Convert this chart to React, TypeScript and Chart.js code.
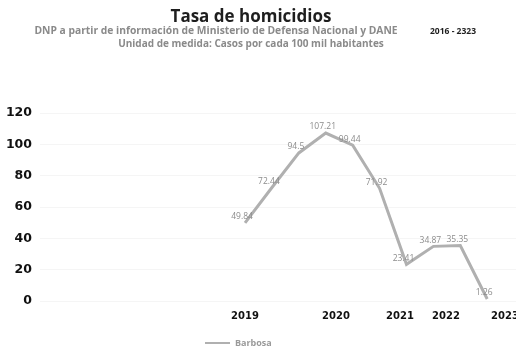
import React, { useEffect, useRef } from "react";
import { Chart, registerables } from "chart.js";

Chart.register(...registerables);

const SERIES_NAME = "Barbosa";
const VALUES = [49.84, 72.44, 94.5, 107.21, 99.44, 71.92, 23.41, 34.87, 35.35, 1.26];
const VALUE_LABELS = ["49.84", "72.44", "94.5", "107.21", "99.44", "71.92", "23.41", "34.87", "35.35", "1.26"];
const X_TICK_LABELS = ["2019", "2020", "2021", "2022", "2023"];
const X_TICK_POS = [0, 3.38, 5.76, 7.47, 9.66];
const Y_TICKS = [0, 20, 40, 60, 80, 100, 120];

const TITLE = "Tasa de homicidios";
const SUB1 = "DNP a partir de información de Ministerio de Defensa Nacional y DANE";
const SUB2 = "Unidad de medida: Casos por cada 100 mil habitantes";
const PERIOD = "2016 - 2323";

const LINE_COLOR = "#b0b0b0";

const extrasPlugin = {
  id: "extras",
  afterDraw(chart: any) {
    const ctx = chart.ctx;
    ctx.save();
    // header
    ctx.textAlign = "center";
    ctx.textBaseline = "middle";
    ctx.fillStyle = "#1e1e1e";
    ctx.font = "bold 17px 'Open Sans'";
    ctx.fillText(TITLE, 251, 17);
    ctx.fillStyle = "#8a8a8a";
    ctx.font = "bold 10.3px 'Open Sans'";
    ctx.fillText(SUB1, 216, 31);
    ctx.font = "bold 10px 'Open Sans'";
    ctx.fillText(SUB2, 251, 44);
    ctx.fillStyle = "#1e1e1e";
    ctx.font = "bold 8.5px 'Open Sans'";
    ctx.fillText(PERIOD, 453, 32);

    // data labels
    const meta = chart.getDatasetMeta(0);
    ctx.fillStyle = "#8c8c8c";
    ctx.font = "8.5px 'Open Sans'";
    meta.data.forEach((pt: any, i: number) => {
      ctx.fillText(VALUE_LABELS[i], pt.x - 3, pt.y - 6);
    });

    // legend
    ctx.strokeStyle = LINE_COLOR;
    ctx.lineWidth = 2;
    ctx.beginPath();
    ctx.moveTo(205, 343);
    ctx.lineTo(230, 343);
    ctx.stroke();
    ctx.fillStyle = "#9a9a9a";
    ctx.font = "bold 9px 'Open Sans'";
    ctx.textAlign = "left";
    ctx.fillText(SERIES_NAME, 235, 343);
    ctx.restore();
  },
};

export default function App() {
  const ref = useRef<HTMLCanvasElement | null>(null);

  useEffect(() => {
    if (!ref.current) return;
    const chart = new Chart(ref.current, {
      type: "line",
      data: {
        datasets: [
          {
            label: SERIES_NAME,
            data: VALUES.map((v, i) => ({ x: i, y: v })),
            borderColor: LINE_COLOR,
            backgroundColor: LINE_COLOR,
            borderWidth: 3,
            pointRadius: 0,
            tension: 0,
          },
        ],
      },
      options: {
        animation: false,
        responsive: false,
        maintainAspectRatio: false,
        layout: { padding: { top: 113, left: 0, right: 0, bottom: 23 } },
        plugins: {
          legend: { display: false },
          title: { display: false },
          tooltip: { enabled: false },
        },
        scales: {
          x: {
            type: "linear",
            min: -7.62,
            max: 10.07,
            grid: { display: false, drawTicks: false },
            border: { display: false },
            afterBuildTicks: (scale: any) => {
              scale.ticks = X_TICK_POS.map((v) => ({ value: v }));
            },
            afterFit: (scale: any) => {
              scale.paddingLeft = 0;
              scale.paddingRight = 0;
            },
            ticks: {
              padding: 9,
              maxRotation: 0,
              autoSkip: false,
              color: "#111",
              font: { family: "DejaVu Sans", weight: "bold", size: 10 },
              callback: (_v: any, i: number) => X_TICK_LABELS[i],
            },
          },
          y: {
            min: 0,
            max: 120,
            grid: { color: "rgba(0,0,0,0.04)", drawTicks: false },
            border: { display: false },
            afterBuildTicks: (scale: any) => {
              scale.ticks = Y_TICKS.map((v) => ({ value: v }));
            },
            afterFit: (scale: any) => {
              scale.width = 40;
            },
            ticks: {
              padding: 8,
              color: "#111",
              font: { family: "DejaVu Sans", weight: "bold", size: 12.5 },
            },
          },
        },
      },
      plugins: [extrasPlugin],
    } as any);
    return () => chart.destroy();
  }, []);

  return (
    <div style={{ position: "absolute", left: 0, top: 0, width: 516, height: 354, background: "#fff" }}>
      <canvas ref={ref} width={516} height={354} style={{ width: 516, height: 354 }} />
    </div>
  );
}
